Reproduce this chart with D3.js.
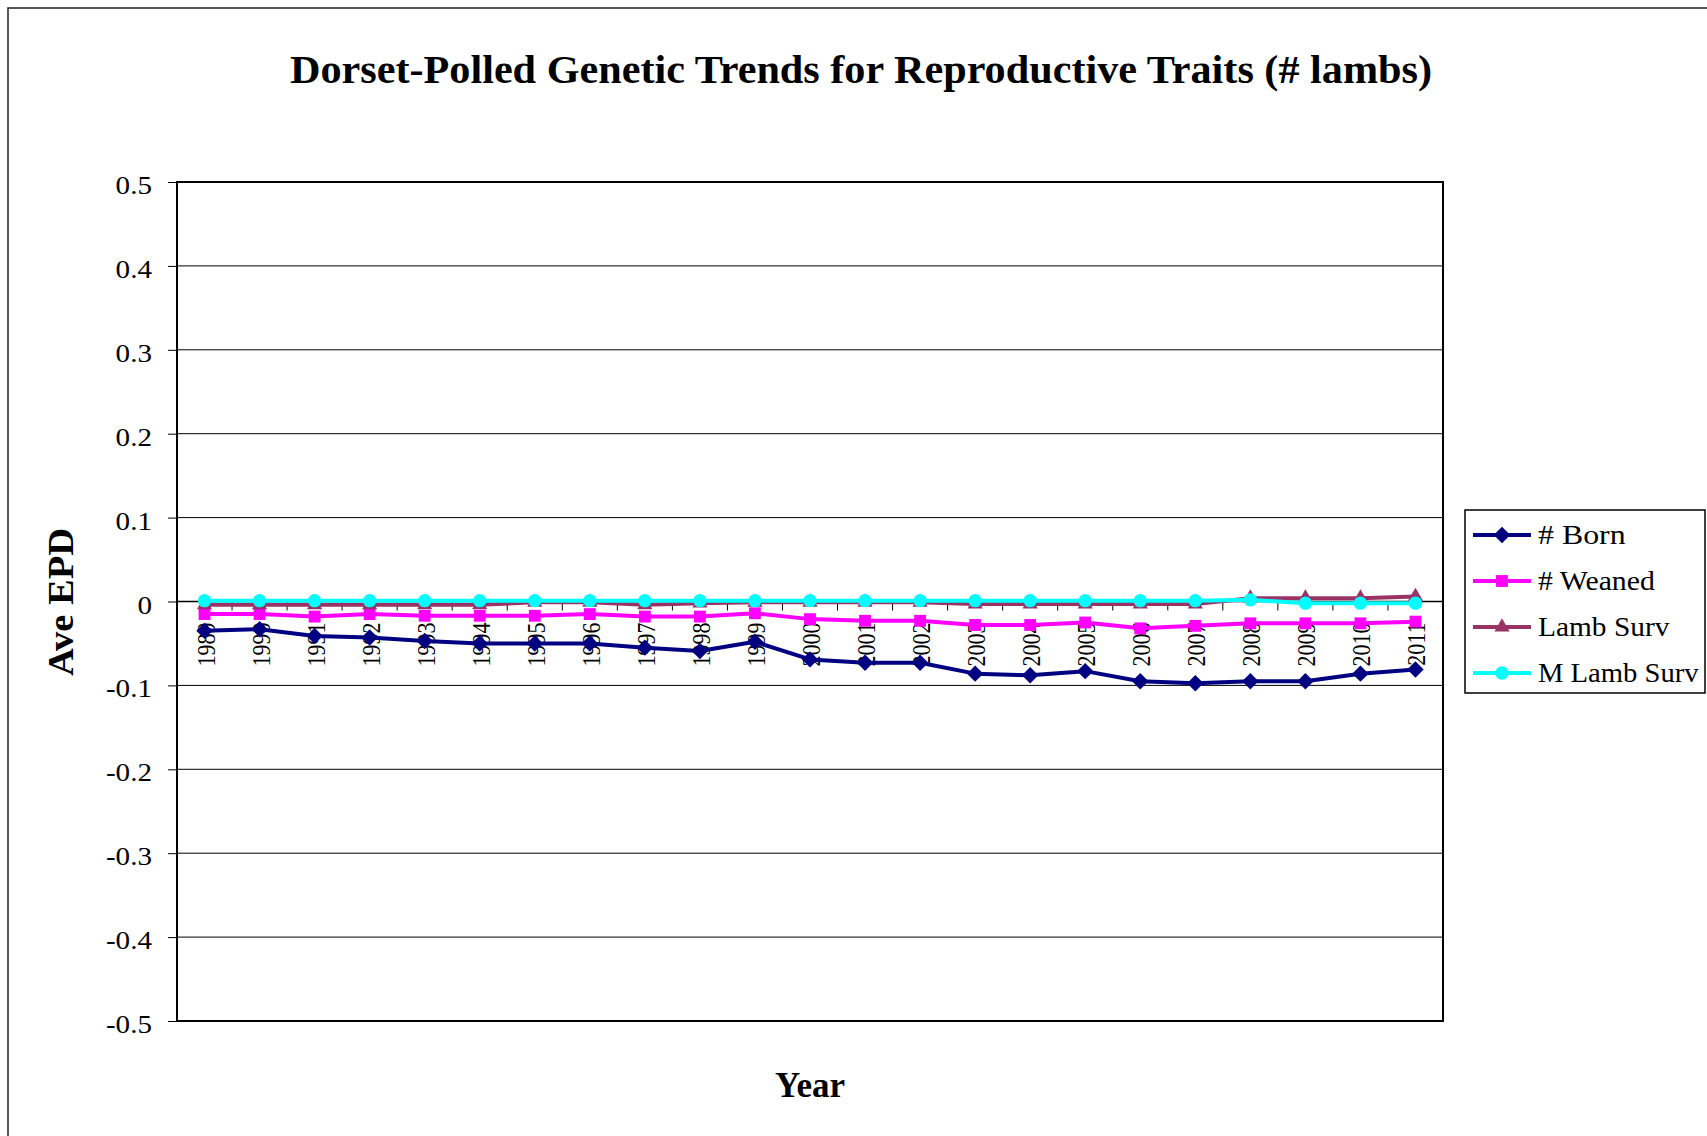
<!DOCTYPE html>
<html>
<head>
<meta charset="utf-8">
<script src="https://cdn.jsdelivr.net/npm/d3@7"></script>
<style>
  body { margin: 0; background: #fff; }
</style>
</head>
<body>
<div id="chart"></div>
<script>
// data
var years = ["1989","1990","1991","1992","1993","1994","1995","1996","1997","1998","1999","2000",
  "2001","2002","2003","2004","2005","2006","2007","2008","2009","2010","2011"];
var born = [-0.035,-0.033,-0.041,-0.043,-0.047,-0.050,-0.050,-0.050,-0.055,-0.059,-0.048,-0.069,
  -0.073,-0.073,-0.086,-0.088,-0.083,-0.095,-0.0975,-0.095,-0.095,-0.086,-0.081];
var weaned = [-0.015,-0.015,-0.018,-0.015,-0.017,-0.017,-0.017,-0.015,-0.018,-0.018,-0.014,-0.021,
  -0.023,-0.023,-0.028,-0.028,-0.025,-0.032,-0.029,-0.026,-0.026,-0.026,-0.024];
var lambSurv = [-0.004,-0.004,-0.004,-0.004,-0.004,-0.004,-0.001,-0.001,-0.004,-0.002,-0.001,-0.001,
  -0.001,-0.001,-0.003,-0.003,-0.003,-0.003,-0.003,0.004,0.004,0.004,0.006];
var mLambSurv = [0.001,0.001,0.001,0.001,0.001,0.001,0.001,0.001,0.001,0.001,0.001,0.001,
  0.001,0.001,0.001,0.001,0.001,0.001,0.001,0.002,-0.002,-0.002,-0.002];
var yTicks = [0.5,0.4,0.3,0.2,0.1,0,-0.1,-0.2,-0.3,-0.4,-0.5];
var yTickLabels = ["0.5","0.4","0.3","0.2","0.1","0","-0.1","-0.2","-0.3","-0.4","-0.5"];

var series = [
  {name: "# Born", values: born, color: "#000080", marker: "diamond"},
  {name: "# Weaned", values: weaned, color: "#ff00ff", marker: "square"},
  {name: "Lamb Surv", values: lambSurv, color: "#993366", marker: "triangle"},
  {name: "M Lamb Surv", values: mLambSurv, color: "#00ffff", marker: "circle"}
];

var FONT = "Liberation Serif";
var width = 1707, height = 1136;
var plot = {left: 177, top: 182, right: 1443, bottom: 1021};

var svg = d3.select("#chart").append("svg")
  .attr("width", width)
  .attr("height", height);

// outer chart border (runs off the right and bottom)
svg.append("rect")
  .attr("x", 8).attr("y", 8)
  .attr("width", width).attr("height", height)
  .attr("fill", "#fff")
  .attr("stroke", "#222").attr("stroke-width", 1.5);

var x = d3.scaleBand().domain(years).range([plot.left, plot.right]).padding(0);
var y = d3.scaleLinear().domain([-0.5, 0.5]).range([plot.bottom, plot.top]);

function cx(d) { return x(d) + x.bandwidth() / 2; }

// grid lines
svg.append("g")
  .selectAll("line")
  .data(yTicks)
  .join("line")
  .attr("x1", plot.left).attr("x2", plot.right)
  .attr("y1", d => y(d)).attr("y2", d => y(d))
  .attr("stroke", "#000").attr("stroke-width", 1);

// plot frame
svg.append("rect")
  .attr("x", plot.left).attr("y", plot.top)
  .attr("width", plot.right - plot.left).attr("height", plot.bottom - plot.top)
  .attr("fill", "none")
  .attr("stroke", "#000").attr("stroke-width", 2);

// y axis ticks + labels
var yAxis = d3.axisLeft(y).tickValues(yTicks).tickSize(9).tickFormat("");
svg.append("g")
  .attr("transform", "translate(" + plot.left + ",0)")
  .call(yAxis)
  .call(g => g.select(".domain").remove())
  .selectAll("line").attr("stroke", "#000");

svg.append("g")
  .selectAll("text")
  .data(yTicks)
  .join("text")
  .attr("transform", d => "translate(152," + (y(d) + 12) + ") scale(1.12,1)")
  .attr("text-anchor", "end")
  .attr("font-size", 26)
  .style("font-family", FONT)
  .text((d, i) => yTickLabels[i]);

// x axis along zero line with ticks between categories
svg.append("line")
  .attr("x1", plot.left).attr("x2", plot.right)
  .attr("y1", y(0)).attr("y2", y(0))
  .attr("stroke", "#000").attr("stroke-width", 1.5);

svg.append("g")
  .selectAll("line")
  .data(years.slice(1))
  .join("line")
  .attr("x1", d => x(d)).attr("x2", d => x(d))
  .attr("y1", y(0)).attr("y2", y(0) + 9)
  .attr("stroke", "#000").attr("stroke-width", 1);

svg.append("g")
  .selectAll("text")
  .data(years)
  .join("text")
  .attr("transform", d => "translate(" + (cx(d) + 10) + "," + (y(0) + 21) + ") scale(1.15,1) rotate(-90)")
  .attr("text-anchor", "end")
  .attr("font-size", 22)
  .style("font-family", FONT)
  .text(d => d);

// series lines and markers
var line = d3.line()
  .x((d, i) => cx(years[i]))
  .y(d => y(d));

var markerShape = {
  diamond: {type: d3.symbolSquare, size: 135, rotate: 45},
  square: {type: d3.symbolSquare, size: 140, rotate: 0},
  triangle: {type: d3.symbolTriangle, size: 100, rotate: 0},
  circle: {type: d3.symbolCircle, size: 140, rotate: 0}
};

series.forEach(s => {
  var m = markerShape[s.marker];
  svg.append("path")
    .datum(s.values)
    .attr("d", line)
    .attr("fill", "none")
    .attr("stroke", s.color)
    .attr("stroke-width", 4)
    .attr("stroke-linejoin", "round");

  svg.append("g")
    .selectAll("path")
    .data(s.values)
    .join("path")
    .attr("d", d3.symbol().type(m.type).size(m.size))
    .attr("transform", (d, i) => "translate(" + cx(years[i]) + "," + y(d) + ") rotate(" + m.rotate + ")")
    .attr("fill", s.color);
});

// titles
svg.append("text")
  .attr("x", 861).attr("y", 83)
  .attr("text-anchor", "middle")
  .attr("font-size", 41)
  .attr("font-weight", "bold")
  .attr("textLength", 1142)
  .attr("lengthAdjust", "spacingAndGlyphs")
  .style("font-family", FONT)
  .text("Dorset-Polled Genetic Trends for Reproductive Traits (# lambs)");

svg.append("text")
  .attr("transform", "translate(73,602) rotate(-90)")
  .attr("text-anchor", "middle")
  .attr("font-size", 35)
  .attr("font-weight", "bold")
  .attr("textLength", 148)
  .attr("lengthAdjust", "spacingAndGlyphs")
  .style("font-family", FONT)
  .text("Ave EPD");

svg.append("text")
  .attr("x", (plot.left + plot.right) / 2).attr("y", 1097)
  .attr("text-anchor", "middle")
  .attr("font-size", 35)
  .attr("font-weight", "bold")
  .style("font-family", FONT)
  .text("Year");

// legend
var legend = svg.append("g");
legend.append("rect")
  .attr("x", 1465).attr("y", 510)
  .attr("width", 240).attr("height", 183)
  .attr("fill", "#fff")
  .attr("stroke", "#000").attr("stroke-width", 1.5);

var rowY = d3.scalePoint().domain(series.map(s => s.name)).range([535, 673]);

series.forEach(s => {
  var m = markerShape[s.marker];
  var ry = rowY(s.name);
  legend.append("line")
    .attr("x1", 1473).attr("x2", 1531)
    .attr("y1", ry).attr("y2", ry)
    .attr("stroke", s.color).attr("stroke-width", 4);
  legend.append("path")
    .attr("d", d3.symbol().type(m.type).size(m.size)())
    .attr("transform", "translate(1502," + ry + ") rotate(" + m.rotate + ")")
    .attr("fill", s.color);
  legend.append("text")
    .attr("x", 1538).attr("y", ry + 9)
    .attr("font-size", 27)
    .style("font-family", FONT)
    .attr("textLength", s.name.length * 14.6)
    .attr("lengthAdjust", "spacingAndGlyphs")
    .text(s.name);
});
</script>
</body>
</html>
